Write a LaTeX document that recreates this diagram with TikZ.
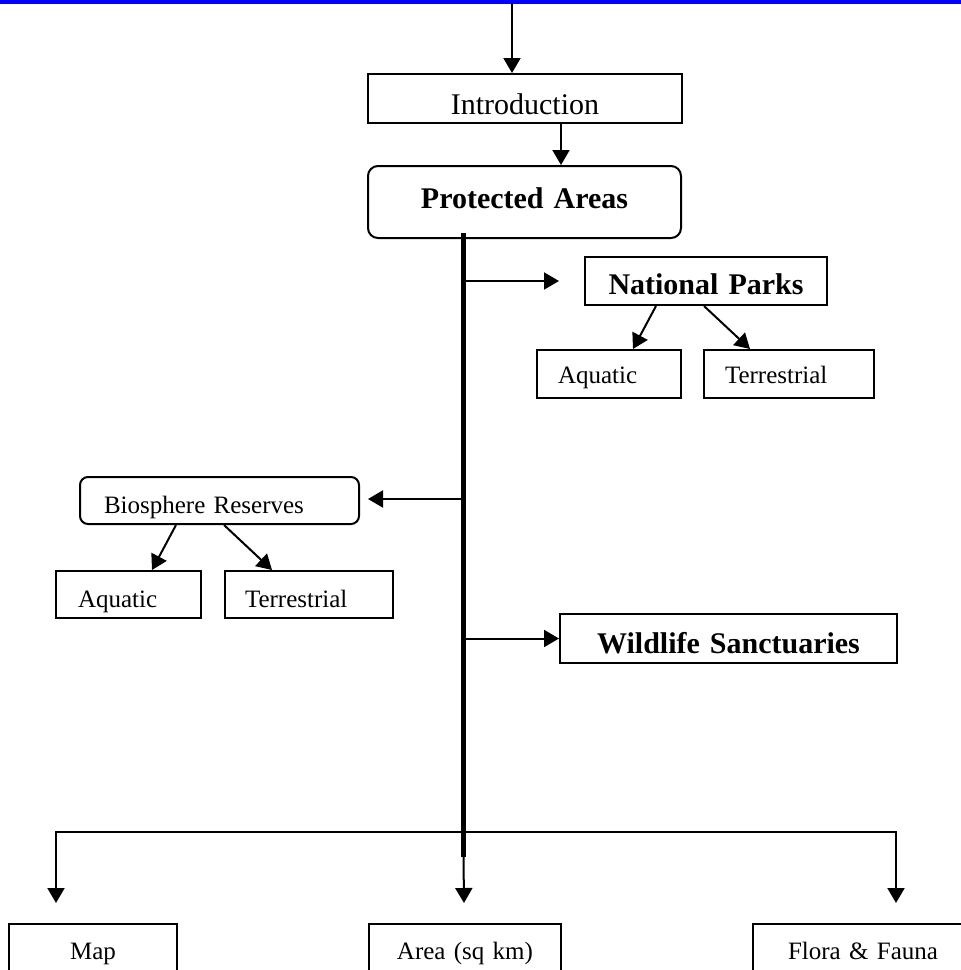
\documentclass[tikz,border=0pt]{standalone}
\usepackage{fontspec}
\setmainfont{Liberation Serif}
\usetikzlibrary{arrows.meta}
\tikzset{
  bx/.style={draw, line width=2pt, inner ysep=0pt, anchor=north west},
  geo/.style n args={4}{text width=#1, inner xsep=#2, text height=#3, text depth=#4},
  reg/.style={font=\fontsize{25}{30}\selectfont},
  big/.style={font=\fontsize{30}{36}\selectfont},
  bld/.style={font=\bfseries\fontsize{30}{36}\selectfont},
  tip/.style={Triangle[length=15pt,width=17pt]},
  arr/.style={line width=2pt, -{Triangle[length=15pt,width=17pt]}},
  arrtwo/.style={line width=2pt, {Triangle[length=15pt,width=17pt]}-{Triangle[length=15pt,width=17pt]}},
  spine/.style={line width=5pt},
}
\begin{document}
\begin{tikzpicture}[x=1pt,y=-1pt]
\useasboundingbox (0,0) rectangle (961,970);
\clip (0,0) rectangle (961,970);
% top blue rule
\fill[blue] (0,0) rectangle (961,3.5);

% boxes
\node[bx, big, geo={314pt}{0pt}{40pt}{9pt}, align=center] (intro) at (367,73) {Introduction};
\node[bx, bld, rounded corners=10pt, geo={313pt}{0pt}{42pt}{30pt}, align=center] (prot) at (367,165) {Protected Areas};
\node[bx, bld, geo={242pt}{0pt}{37pt}{11pt}, align=center] (np) at (584,256) {National Parks};
\node[bx, reg, geo={102pt}{21pt}{33pt}{15pt}, align=left] (npaq) at (536,349) {Aquatic};
\node[bx, reg, geo={128pt}{21pt}{33pt}{15pt}, align=left] (npter) at (703,349) {Terrestrial};
\node[bx, reg, rounded corners=8pt, geo={231pt}{24pt}{36pt}{11pt}, align=left] (bio) at (79,476) {Biosphere Reserves};
\node[bx, reg, geo={101pt}{22pt}{36pt}{11pt}, align=left] (bioaq) at (55,570) {Aquatic};
\node[bx, reg, geo={128pt}{20pt}{36pt}{11pt}, align=left] (bioter) at (224,570) {Terrestrial};
\node[bx, bld, geo={337pt}{0pt}{39pt}{10pt}, align=center] (wild) at (559,613) {Wildlife Sanctuaries};
\node[bx, reg, geo={168pt}{0pt}{35pt}{40pt}, align=center] (map) at (8,923) {Map};
\node[bx, reg, geo={192pt}{0pt}{35pt}{40pt}, align=center] (area) at (368,923) {Area (sq km)};
\node[bx, reg, geo={180pt}{35pt}{35pt}{40pt}, align=left] (flora) at (752,923) {Flora \& Fauna};

% coordinates
\coordinate (top) at (512,3);
\coordinate (spinetop) at (463.5,233);
\coordinate (spinebot) at (463.5,857);
\coordinate (nptip) at (559,281);
\coordinate (biotip) at (368,499);
\coordinate (hl) at (56,832);
\coordinate (hr) at (896,832);
\coordinate (maptip) at (56,903);
\coordinate (areatip) at (464,903);
\coordinate (floratip) at (896,903);

% connectors
\draw[arr] (top) -- (top |- intro.north);
\draw[arr] ([xshift=36pt]intro.south) -- ([xshift=36pt]intro.south |- prot.north);
\draw[spine] (spinetop) -- (spinebot);
\draw[arr] (spinetop |- nptip) -- (nptip);
\draw[arr] (spinetop |- biotip) -- (biotip);
\draw[arr] (spinetop |- wild.west) -- (wild.west);
\draw[arr] ([xshift=72pt]np.south west) -- ([xshift=97pt]npaq.north west);
\draw[arr] ([xshift=120pt]np.south west) -- ([xshift=47pt]npter.north west);
\draw[arr] ([xshift=97pt]bio.south west) -- ([xshift=97pt]bioaq.north west);
\draw[arr] ([xshift=145pt]bio.south west) -- ([xshift=48pt]bioter.north west);
\draw[arrtwo] (maptip) -- (hl) -- (hr) -- (floratip);
\draw[arr] (spinebot) -- (areatip);
\end{tikzpicture}
\end{document}
